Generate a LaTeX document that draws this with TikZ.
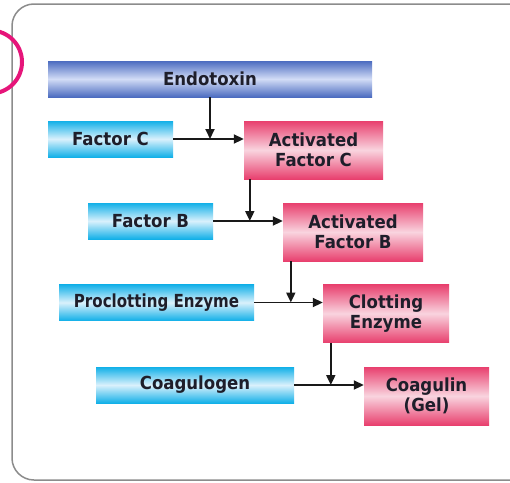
\documentclass[tikz,border=0pt]{standalone}
\usepackage{fontspec}
\setmainfont{DejaVu Sans}
\newfontfamily\lblfont{DejaVu Sans}[UprightFont=*-Bold, FakeStretch=0.92]
\usetikzlibrary{arrows.meta,calc}
\definecolor{txt}{HTML}{1E1E2A}
\definecolor{bluedark}{HTML}{4C6CC0}
\definecolor{bluelight}{HTML}{D2DCF6}
\definecolor{cyandark}{HTML}{12B0E8}
\definecolor{cyanlight}{HTML}{DAF1FC}
\definecolor{pinkdark}{HTML}{E8406E}
\definecolor{pinklight}{HTML}{F9D4DF}
\definecolor{framegray}{HTML}{8C8C8C}
\definecolor{ring}{HTML}{E6157A}
\tikzset{
  boxbase/.style={rectangle, inner sep=0pt, text=txt, align=center,
    font=\lblfont\fontsize{18}{20.5}\selectfont},
  endobox/.style={boxbase, shade, top color=bluedark, bottom color=bluedark, middle color=bluelight},
  inbox/.style={boxbase, shade, top color=cyandark, bottom color=cyandark, middle color=cyanlight, minimum height=36pt},
  outbox/.style={boxbase, shade, top color=pinkdark, bottom color=pinkdark, middle color=pinklight, minimum height=58pt},
  conn/.style={line width=1.9pt, draw=black!90, -{Triangle[length=10pt,width=9pt]}}
}
\begin{document}
\begin{tikzpicture}[x=1pt,y=-1pt]
\useasboundingbox (0,0) rectangle (510,482);
\clip (0,0) rectangle (510,482);
\fill[white] (0,0) rectangle (510,482);
\draw[framegray, line width=1.5pt, rounded corners=22pt] (12,4) rectangle (540,480);
\draw[ring, line width=4pt] (-9.5,62) circle[radius=31.5];

\node[endobox, minimum width=324pt, minimum height=36pt] (endo) at (210,79) {Endotoxin};

\node[inbox, minimum width=125pt] (fc) at (110.5,139) {Factor C};
\node[outbox, minimum width=139pt] (afc) at (313.5,150) {Activated\\Factor C};

\node[inbox, minimum width=125pt] (fb) at (150.5,221) {Factor B};
\node[outbox, minimum width=140pt] (afb) at (353,232) {Activated\\Factor B};

\node[inbox, minimum width=195pt] (pce) at (156.5,302.5) {\scalebox{0.91}[1]{Proclotting Enzyme}};
\node[outbox, minimum width=126pt] (ce) at (386,313.5) {Clotting\\Enzyme};

\node[inbox, minimum width=198pt] (cg) at (195,385) {Coagulogen};
\node[outbox, minimum width=125pt] (cgl) at (426.5,396) {Coagulin\\(Gel)};

% horizontal arrows
\draw[conn] (fc.east) -- (fc.east -| afc.west);
\draw[conn] (fb.east) -- (fb.east -| afb.west);
\draw[conn] (pce.east) -- (pce.east -| ce.west);
\draw[conn] (cg.east) -- (cg.east -| cgl.west);

% vertical arrows
\coordinate (v1) at (endo.south);
\draw[conn] (v1) -- (v1 |- fc.east);
\coordinate (v2) at ($(afc.south west)+(6,0)$);
\draw[conn] (v2) -- (v2 |- fb.east);
\coordinate (v3) at ($(afb.south west)+(8,0)$);
\draw[conn] (v3) -- (v3 |- pce.east);
\coordinate (v4) at ($(ce.south west)+(8,0)$);
\draw[conn] (v4) -- (v4 |- cg.east);
\end{tikzpicture}
\end{document}
